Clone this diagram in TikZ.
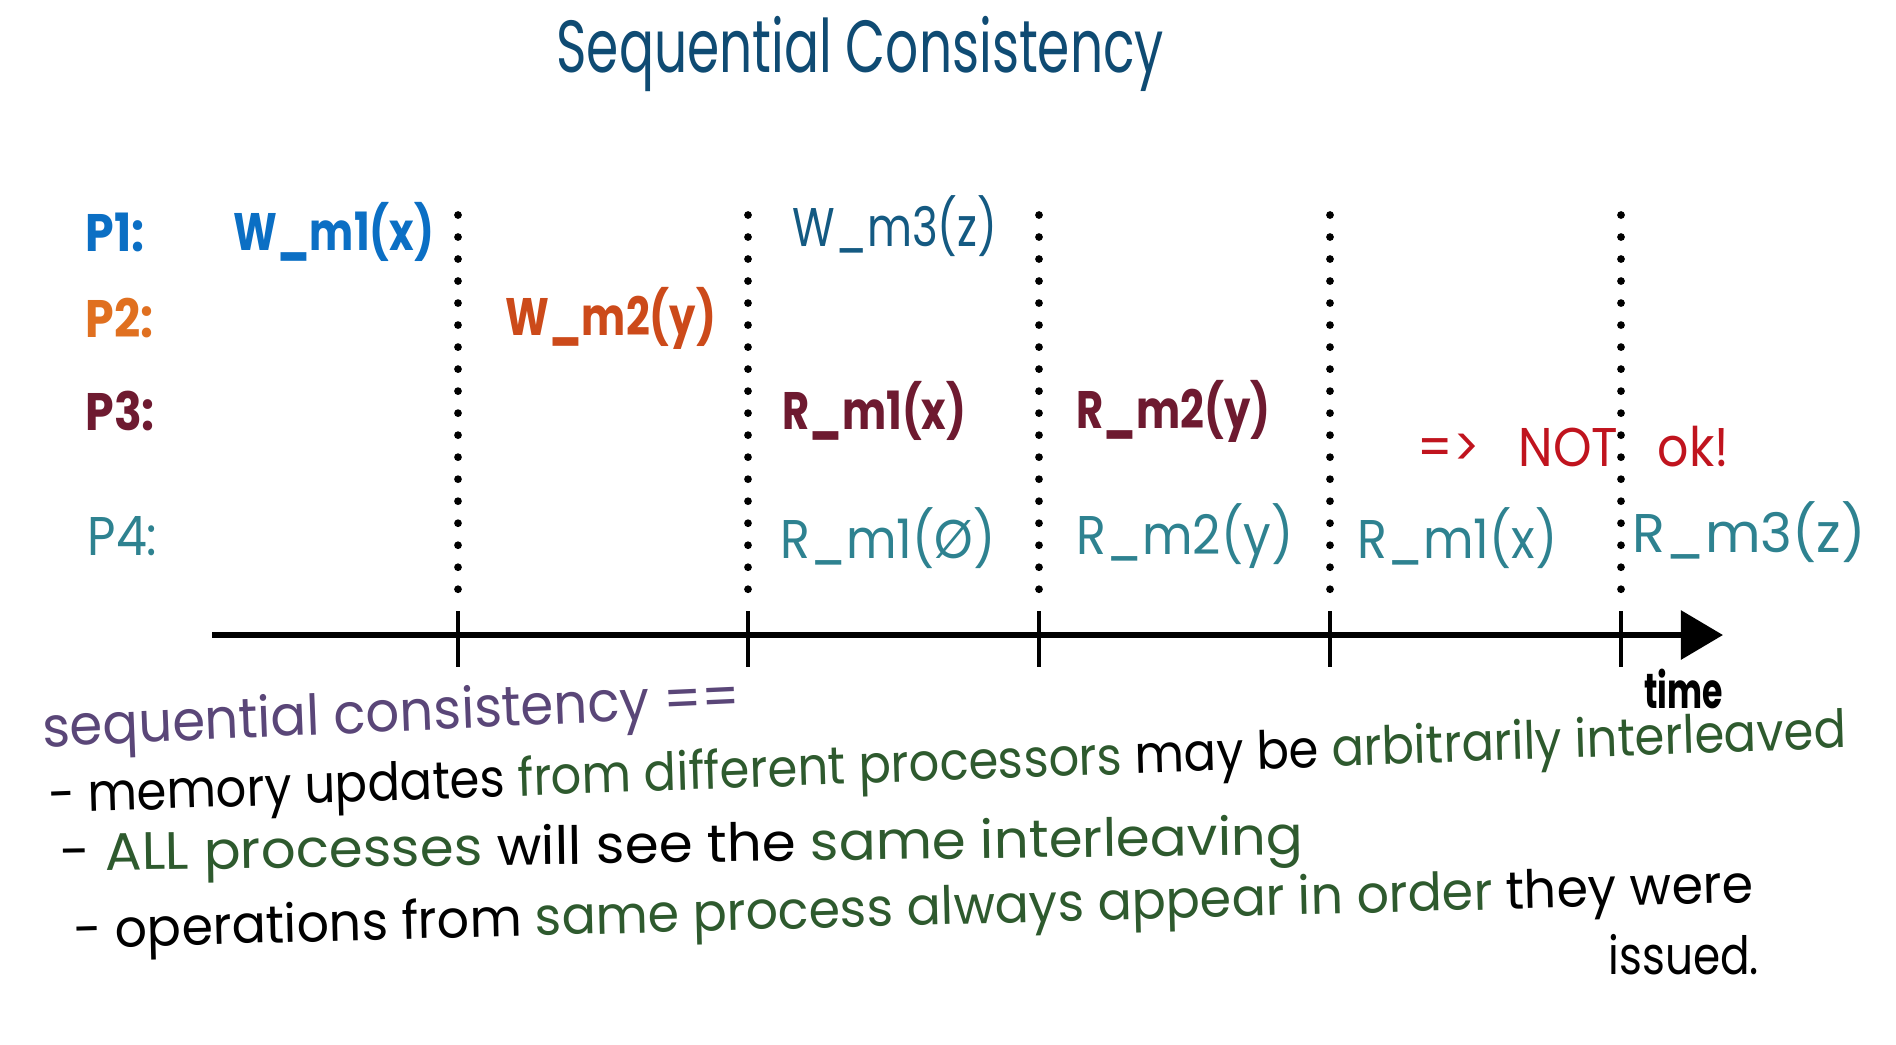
\documentclass[tikz,border=0pt]{standalone}
\usepackage{fontspec}
\setmainfont{Poppins}
\usepackage{tikz}
\usetikzlibrary{arrows.meta,positioning}
\definecolor{titleBlue}{HTML}{0F4B73}
\definecolor{pOne}{HTML}{0B6FC4}
\definecolor{hBlue}{HTML}{145A82}
\definecolor{pTwo}{HTML}{E07020}
\definecolor{wTwo}{HTML}{CC4A1A}
\definecolor{pThree}{HTML}{6E1A30}
\definecolor{pFour}{HTML}{2E8290}
\definecolor{notRed}{HTML}{C0141E}
\definecolor{notePurple}{HTML}{5A4678}
\definecolor{noteGreen}{HTML}{2E5A2E}

\begin{document}
\begin{tikzpicture}[x=0.01cm, y=-0.01cm,
  typed/.style={anchor=west, inner sep=0pt, xscale=0.79, font=\fontsize{15}{18}\selectfont\bfseries},
  hand/.style={anchor=west, inner sep=0pt, xscale=0.9, font=\fontsize{15.5}{18}\selectfont},
  note/.style={anchor=west, inner sep=0pt, font=\fontsize{15}{18}\selectfont},
  dotline/.style={line width=2.2pt, line cap=round, dash pattern=on 0pt off 0.22cm},
  tickmark/.style={line width=1.4pt}]
  \useasboundingbox (0,0) rectangle (1896,1044);

  \node[hand, titleBlue, xscale=0.78, font=\fontsize{21}{24}\selectfont] (title) at (556,54) {Sequential Consistency};

  % process rows
  \node[typed, pOne, xscale=1.1] (p1) at (85,232) {P1:};
  \node[typed, pTwo, xscale=1.1] (p2) at (85,318) {P2:};
  \node[typed, pThree, xscale=1.1] (p3) at (85,411) {P3:};
  \node[hand, pFour] (p4) at (87,536) {P4:};

  \node[typed, pOne] (w1) at (233,232) {W\_m1(x)};
  \node[hand, hBlue, xscale=0.89] (w3) at (792,226) {W\_m3(z)};
  \node[typed, wTwo] (w2) at (505,318) {W\_m2(y)};
  \node[typed, pThree] (r31) at (782,411) {R\_m1(x)};
  \node[typed, pThree] (r32) at (1076,411) {R\_m2(y)};
  \node[hand, pFour] (r41) at (780,538) {R\_m1(Ø)};
  \node[hand, pFour] (r42) at (1076,536) {R\_m2(y)};
  \node[hand, pFour] (r43) at (1357,538) {R\_m1(x)};
  \node[hand, pFour, xscale=1.1] (r44) at (1632,532) {R\_m3(z)};
  \node[hand, notRed] (notok) at (1417,447) {=>\hspace{0.8em}NOT\hspace{0.8em}ok!};

  % time axis
  \coordinate (start) at (212,635);
  \coordinate (end) at (1723,635);
  \foreach \x in {458,748,1039,1330,1621} {
    \draw[dotline] (\x,215) -- (\x,600);
    \draw[tickmark] (\x,611) -- (\x,667);
  }
  \draw[line width=1.7pt, -{Triangle[length=0.42cm, width=0.48cm]}] (start) -- (end);
  \node[typed, xscale=0.85, font=\fontsize{14}{16}\selectfont\bfseries] (time) at (1644,689) {time};

  % notes
  \node[note, notePurple, xscale=0.94, font=\fontsize{16}{18}\selectfont, rotate=2.4] (sc) at (42,733) {sequential consistency ==};
  \node[note, xscale=0.91, rotate=1.9] (n1) at (48,800) {- memory updates \textcolor{noteGreen}{from different processors} may be \textcolor{noteGreen}{arbitrarily interleaved}};
  \node[note, xscale=1.035, rotate=0.8] (n2) at (60,858) {- \textcolor{noteGreen}{ALL processes} will see the \textcolor{noteGreen}{same interleaving}};
  \node[note, xscale=0.96, rotate=1.5] (n3) at (73,935) {- operations from \textcolor{noteGreen}{same process always appear in order} they were};
  \node[note, xscale=0.83] (n4) at (1608,955) {issued.};
\end{tikzpicture}
\end{document}
